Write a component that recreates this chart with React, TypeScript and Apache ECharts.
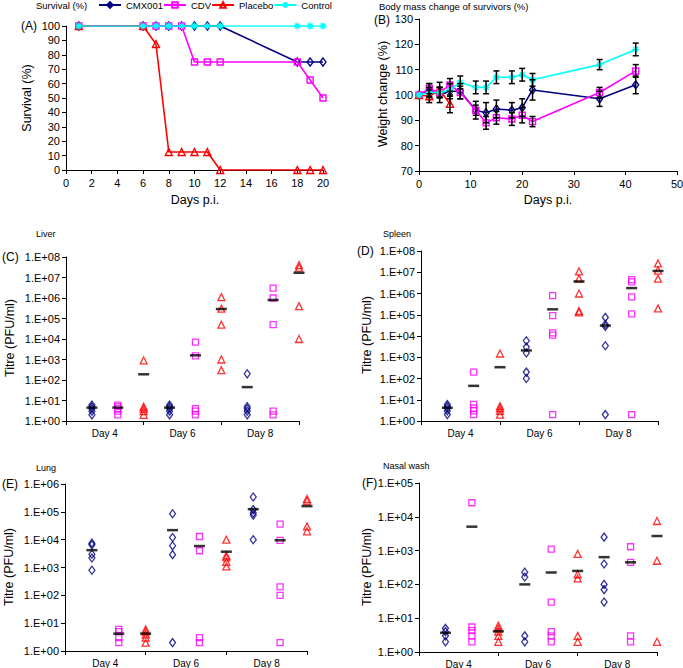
import React, { useEffect, useRef } from 'react';
import * as echarts from 'echarts';

const FONT = '"Liberation Sans", Arial, Helvetica, sans-serif';
const NAVY = '#000080';
const MAGENTA = '#FF00FF';
const RED = '#FF0000';
const CYAN = '#00FFFF';

const groupNames = ['CMX001', 'CDV', 'Placebo', 'Control'];
const dayLabels = ['Day 4', 'Day 6', 'Day 8'];

// (A) survival
const survivalDays = [1, 6, 7, 8, 9, 10, 11, 12, 18, 19, 20];
const survCMX = [100, 100, 100, 100, 100, 100, 100, 100, 75, 75, 75];
const survCDV = [100, 100, 100, 100, 100, 75, 75, 75, 75, 62.5, 50];
const survPlacebo = [100, 100, 87.5, 12.5, 12.5, 12.5, 12.5, 0, 0, 0, 0];
const survControl = [100, 100, 100, 100, 100, 100, 100, 100, 100, 100, 100];

// (B) body mass
const massDays = [0, 2, 4, 6, 8, 11, 13, 15, 18, 20, 22, 35, 42];
const massCMX = [100, 102, 100, 101.5, 101.5, 94, 93, 94.5, 94, 95, 102, 98.5, 104];
const massCMXErr = [0, 2.5, 3, 3, 3, 3.5, 4, 3.5, 3, 3.5, 4, 3, 3.5];
const massCDV = [100, 102.5, 101, 104, 101, 94, 89, 91, 90.5, 92, 89.5, 101, 109.5];
const massCDVErr = [0, 2, 2, 2.5, 2.5, 2, 2.5, 2.5, 2.5, 3, 2, 2, 2.5];
const massPlaceboDays = [0, 2, 4, 6];
const massPlacebo = [100, 99.5, 102, 96.5];
const massPlaceboErr = [0, 2.5, 3, 3.5];
const massControl = [100, 101, 101, 102, 105, 103, 103, 107, 107, 108, 106, 112, 118];
const massControlErr = [0, 2, 2, 2.5, 2.5, 2.5, 2.5, 2.5, 2.5, 2.5, 2.5, 2, 2.5];

// (C) liver titres: [Day 4, Day 6, Day 8]
const liverCMX = [[6, 5, 4, 3, 2], [6, 5, 4, 3, 2], [200, 5, 4, 3, 2]];
const liverCDV = [[6, 5, 4, 3, 2], [7000, 1500, 4, 3, 2], [3e6, 1e6, 5e4, 3, 2]];
const liverPlacebo = [[900, 5, 4, 3, 2], [1.1e6, 3e5, 5e4, 1000, 300], [4e7, 3e7, 4e5, 1e4]];
const liverMeanCMX = [4.5, 4.5, 45];
const liverMeanCDV = [4.5, 1600, 8e5];
const liverMeanPlacebo = [190, 2.9e5, 1.7e7];

// (D) spleen
const spleenCMX = [[6, 5, 4, 3, 2], [6000, 3000, 1600, 200, 100], [7.5e4, 3.5e4, 2.8e4, 3500, 2]];
const spleenCDV = [[200, 6, 4, 3, 2], [8e5, 9e4, 1.4e4, 1.1e4, 2], [4.5e6, 3.5e6, 7e5, 1.1e5, 2]];
const spleenPlacebo = [[1500, 5, 4, 3, 2], [1.1e7, 5e6, 1e6, 1.5e5, 1.3e5], [2.6e7, 1.2e7, 5e6, 2e5]];
const spleenMeanCMX = [4.2, 2100, 3.1e4];
const spleenMeanCDV = [45, 1.8e5, 1.8e6];
const spleenMeanPlacebo = [340, 3.7e6, 1.15e7];

// (E) lung
const lungCMX = [[7500, 6500, 3000, 2200, 800], [8.5e4, 1.2e4, 6000, 2900, 2], [3.4e5, 1.2e5, 9e4, 7.5e4, 1e4]];
const lungCDV = [[6, 5, 3, 2], [1.3e4, 4000, 3, 2], [3.6e4, 9500, 200, 100, 2]];
const lungPlacebo = [[6, 5, 4, 3, 2], [1e4, 2700, 2300, 1600, 1100], [2.9e5, 2.5e5, 3e4, 2e4]];
const lungMeanCMX = [4200, 2.2e4, 1.25e5];
const lungMeanCDV = [4.2, 5900, 9500];
const lungMeanPlacebo = [4.2, 3700, 1.6e5];

// (F) nasal wash
const nasalCMX = [[5, 4, 3, 2], [230, 165, 3, 2], [2500, 400, 100, 70, 30]];
const nasalCDV = [[2.6e4, 5.5, 4.3, 3, 2], [1100, 30, 4, 3, 2], [1300, 450, 3, 2]];
const nasalPlacebo = [[6, 5, 4, 3, 2], [800, 200, 150, 3, 2], [7500, 500, 2]];
const nasalMeanCMX = [3.7, 100, 640];
const nasalMeanCDV = [5100, 225, 450];
const nasalMeanPlacebo = [4.1, 250, 2700];

const STAR = 'path://M0 5L10 5M5 0L5 10M1.5 1.5L8.5 8.5M8.5 1.5L1.5 8.5';
const groupColors = [NAVY, MAGENTA, RED, CYAN];
const groupSymbols = ['diamond', 'rect', 'triangle', STAR];
const groupSizes: any[] = [[6, 8], 6, [7, 7], 7];

const hollow = (c: string, w = 1.3) => ({ color: 'rgba(255,255,255,0)', borderColor: c, borderWidth: w });

function lineSeries(gi: number, xi: number, days: number[], vals: number[]) {
  return {
    type: 'line',
    name: groupNames[gi],
    xAxisIndex: xi,
    yAxisIndex: xi,
    data: days.map((d, i) => [d, vals[i]]),
    symbol: groupSymbols[gi],
    symbolSize: groupSizes[gi],
    showSymbol: true,
    lineStyle: { color: groupColors[gi], width: 1.6 },
    itemStyle: hollow(groupColors[gi], 1.4),
    z: 3 + gi * 0.1,
  };
}

function errorSeries(days: number[], vals: number[], errs: number[]) {
  return {
    type: 'custom',
    name: 'err',
    xAxisIndex: 1,
    yAxisIndex: 1,
    z: 6,
    encode: { x: 0, y: 1 },
    data: days.map((d, i) => [d, vals[i], errs[i]]),
    renderItem: (params: any, api: any) => {
      const x = api.value(0);
      const y = api.value(1);
      const e = api.value(2);
      if (!e) return null;
      const p1 = api.coord([x, y + e]);
      const p2 = api.coord([x, y - e]);
      const w = 3;
      const st = { stroke: '#000', lineWidth: 1.5 };
      return {
        type: 'group',
        children: [
          { type: 'line', shape: { x1: p1[0], y1: p1[1], x2: p2[0], y2: p2[1] }, style: st },
          { type: 'line', shape: { x1: p1[0] - w, y1: p1[1], x2: p1[0] + w, y2: p1[1] }, style: st },
          { type: 'line', shape: { x1: p2[0] - w, y1: p2[1], x2: p2[0] + w, y2: p2[1] }, style: st },
        ],
      };
    },
  };
}

function titreSeries(tag: string, xi: number, yi: number, groups: number[][][], means: number[][]) {
  const out: any[] = [];
  groups.forEach((g, gi) => {
    const data: number[][] = [];
    g.forEach((vals, di) => vals.forEach((v) => data.push([di * 3 + gi + 1, v])));
    out.push({
      type: 'scatter',
      name: tag + '-' + groupNames[gi],
      xAxisIndex: xi,
      yAxisIndex: yi,
      symbol: groupSymbols[gi],
      symbolSize: groupSizes[gi],
      itemStyle: hollow(groupColors[gi], 1.3),
      data,
      z: 3,
    });
  });
  const meanData: number[][] = [];
  means.forEach((m, gi) => m.forEach((v, di) => meanData.push([di * 3 + gi + 1, v])));
  out.push({
    type: 'scatter',
    name: tag + '-mean',
    xAxisIndex: xi,
    yAxisIndex: yi,
    symbol: 'rect',
    symbolSize: [11, 2.5],
    itemStyle: { color: '#000' },
    data: meanData,
    z: 5,
  });
  return out;
}

const axisLineStyle = { show: true, lineStyle: { color: '#000', width: 1 } };
const tickStyle = { show: true, length: 4, lineStyle: { color: '#000', width: 1 } };
const labelStyle = { color: '#000', fontSize: 11, fontFamily: FONT, margin: 6 };

const logFmt = (v: number) => '1.E+' + String(Math.round(Math.log10(v))).padStart(2, '0');

function valueX(grid: number, min: number, max: number, interval: number, showLabel: boolean) {
  return {
    type: 'value',
    gridIndex: grid,
    min,
    max,
    interval,
    position: 'bottom',
    axisLine: { ...axisLineStyle, onZero: false },
    axisTick: tickStyle,
    axisLabel: { ...labelStyle, show: showLabel, margin: 7 },
    splitLine: { show: false },
  };
}

function dayX(grid: number) {
  return {
    type: 'category',
    gridIndex: grid,
    data: dayLabels,
    position: 'bottom',
    boundaryGap: true,
    axisLine: { show: false },
    axisTick: { show: false },
    axisLabel: { color: '#000', fontSize: 10, fontFamily: FONT, margin: 7 },
    splitLine: { show: false },
  };
}

function logY(grid: number, maxExp: number) {
  return {
    type: 'log',
    logBase: 10,
    gridIndex: grid,
    min: 1,
    max: Math.pow(10, maxExp),
    splitNumber: maxExp,
    axisLine: axisLineStyle,
    axisTick: tickStyle,
    axisLabel: { ...labelStyle, formatter: logFmt },
    splitLine: { show: false },
  };
}

function txt(text: string, x: number, y: number, size: number, opts: any = {}) {
  return {
    type: 'text',
    x,
    y,
    rotation: opts.rotation || 0,
    style: {
      text,
      fill: '#000',
      font: `${size}px ${FONT}`,
      align: opts.align || 'left',
      verticalAlign: 'middle',
    },
  };
}

export default function App() {
  const ref = useRef<HTMLDivElement>(null);
  useEffect(() => {
    document.body.style.margin = '0';
    if (!ref.current) return;
    const chart = echarts.init(ref.current, undefined, { renderer: 'svg' });
    const R = Math.PI / 2;
    const option: any = {
      animation: false,
      backgroundColor: '#fff',
      textStyle: { fontFamily: FONT },
      legend: {
        data: groupNames,
        left: 98,
        top: 0,
        padding: 0,
        itemWidth: 22,
        itemHeight: 7,
        itemGap: 0,
        selectedMode: false,
        textStyle: { fontSize: 9.5, color: '#000', fontFamily: FONT },
      },
      grid: [
        { left: 66, top: 26, width: 257, height: 144, outerBoundsMode: 'none' },
        { left: 419, top: 19, width: 258, height: 152, outerBoundsMode: 'none' },
        { left: 66, top: 257, width: 233, height: 164, outerBoundsMode: 'none' },
        { left: 421, top: 251, width: 237, height: 170, outerBoundsMode: 'none' },
        { left: 65, top: 484, width: 242, height: 167, outerBoundsMode: 'none' },
        { left: 419, top: 483, width: 238, height: 169, outerBoundsMode: 'none' },
      ],
      xAxis: [
        valueX(0, 0, 20, 2, true),
        valueX(1, 0, 50, 10, true),
        valueX(2, 0, 9, 3, false),
        dayX(2),
        valueX(3, 0, 9, 3, false),
        dayX(3),
        valueX(4, 0, 9, 3, false),
        dayX(4),
        valueX(5, 0, 9, 3, false),
        dayX(5),
      ],
      yAxis: [
        {
          type: 'value', gridIndex: 0, min: 0, max: 100, interval: 10,
          axisLine: axisLineStyle, axisTick: tickStyle, axisLabel: labelStyle, splitLine: { show: false },
        },
        {
          type: 'value', gridIndex: 1, min: 70, max: 130, interval: 10,
          axisLine: axisLineStyle, axisTick: tickStyle, axisLabel: labelStyle, splitLine: { show: false },
        },
        logY(2, 8),
        logY(3, 8),
        logY(4, 6),
        logY(5, 5),
      ],
      series: [
        lineSeries(0, 0, survivalDays, survCMX),
        lineSeries(1, 0, survivalDays, survCDV),
        lineSeries(2, 0, survivalDays, survPlacebo),
        lineSeries(3, 0, survivalDays, survControl),
        lineSeries(0, 1, massDays, massCMX),
        lineSeries(1, 1, massDays, massCDV),
        lineSeries(2, 1, massPlaceboDays, massPlacebo),
        lineSeries(3, 1, massDays, massControl),
        errorSeries(massDays, massCMX, massCMXErr),
        errorSeries(massDays, massCDV, massCDVErr),
        errorSeries(massPlaceboDays, massPlacebo, massPlaceboErr),
        errorSeries(massDays, massControl, massControlErr),
        ...titreSeries('C', 2, 2, [liverCMX, liverCDV, liverPlacebo], [liverMeanCMX, liverMeanCDV, liverMeanPlacebo]),
        ...titreSeries('D', 4, 3, [spleenCMX, spleenCDV, spleenPlacebo], [spleenMeanCMX, spleenMeanCDV, spleenMeanPlacebo]),
        ...titreSeries('E', 6, 4, [lungCMX, lungCDV, lungPlacebo], [lungMeanCMX, lungMeanCDV, lungMeanPlacebo]),
        ...titreSeries('F', 8, 5, [nasalCMX, nasalCDV, nasalPlacebo], [nasalMeanCMX, nasalMeanCDV, nasalMeanPlacebo]),
      ],
      graphic: [
        txt('Survival (%)', 36, 5.5, 9.5),
        txt('(A)', 21, 26, 12),
        txt('Survival (%)', 27, 98, 12.5, { rotation: R, align: 'center' }),
        txt('Days p.i.', 195, 200, 12.5, { align: 'center' }),
        txt('Body mass change of survivors (%)', 379, 6, 9.5),
        txt('(B)', 374, 20, 12),
        txt('Weight change (%)', 383, 94, 12.5, { rotation: R, align: 'center' }),
        txt('Days p.i.', 548, 200, 12.5, { align: 'center' }),
        txt('Liver', 36, 234, 9),
        txt('(C)', 2, 257, 12),
        txt('Titre (PFU/ml)', 10, 338, 12.5, { rotation: R, align: 'center' }),
        txt('Spleen', 383, 234, 9),
        txt('(D)', 357, 251, 12),
        txt('Titre (PFU/ml)', 367, 335, 12.5, { rotation: R, align: 'center' }),
        txt('Lung', 36, 468, 9),
        txt('(E)', 2, 484, 12),
        txt('Titre (PFU/ml)', 9, 567, 12.5, { rotation: R, align: 'center' }),
        txt('Nasal wash', 383, 466, 9),
        txt('(F)', 362, 483, 12),
        txt('Titre (PFU/ml)', 367, 567, 12.5, { rotation: R, align: 'center' }),
      ],
    };
    chart.setOption(option);
    return () => chart.dispose();
  }, []);
  return <div ref={ref} style={{ width: 683, height: 668 }} />;
}
